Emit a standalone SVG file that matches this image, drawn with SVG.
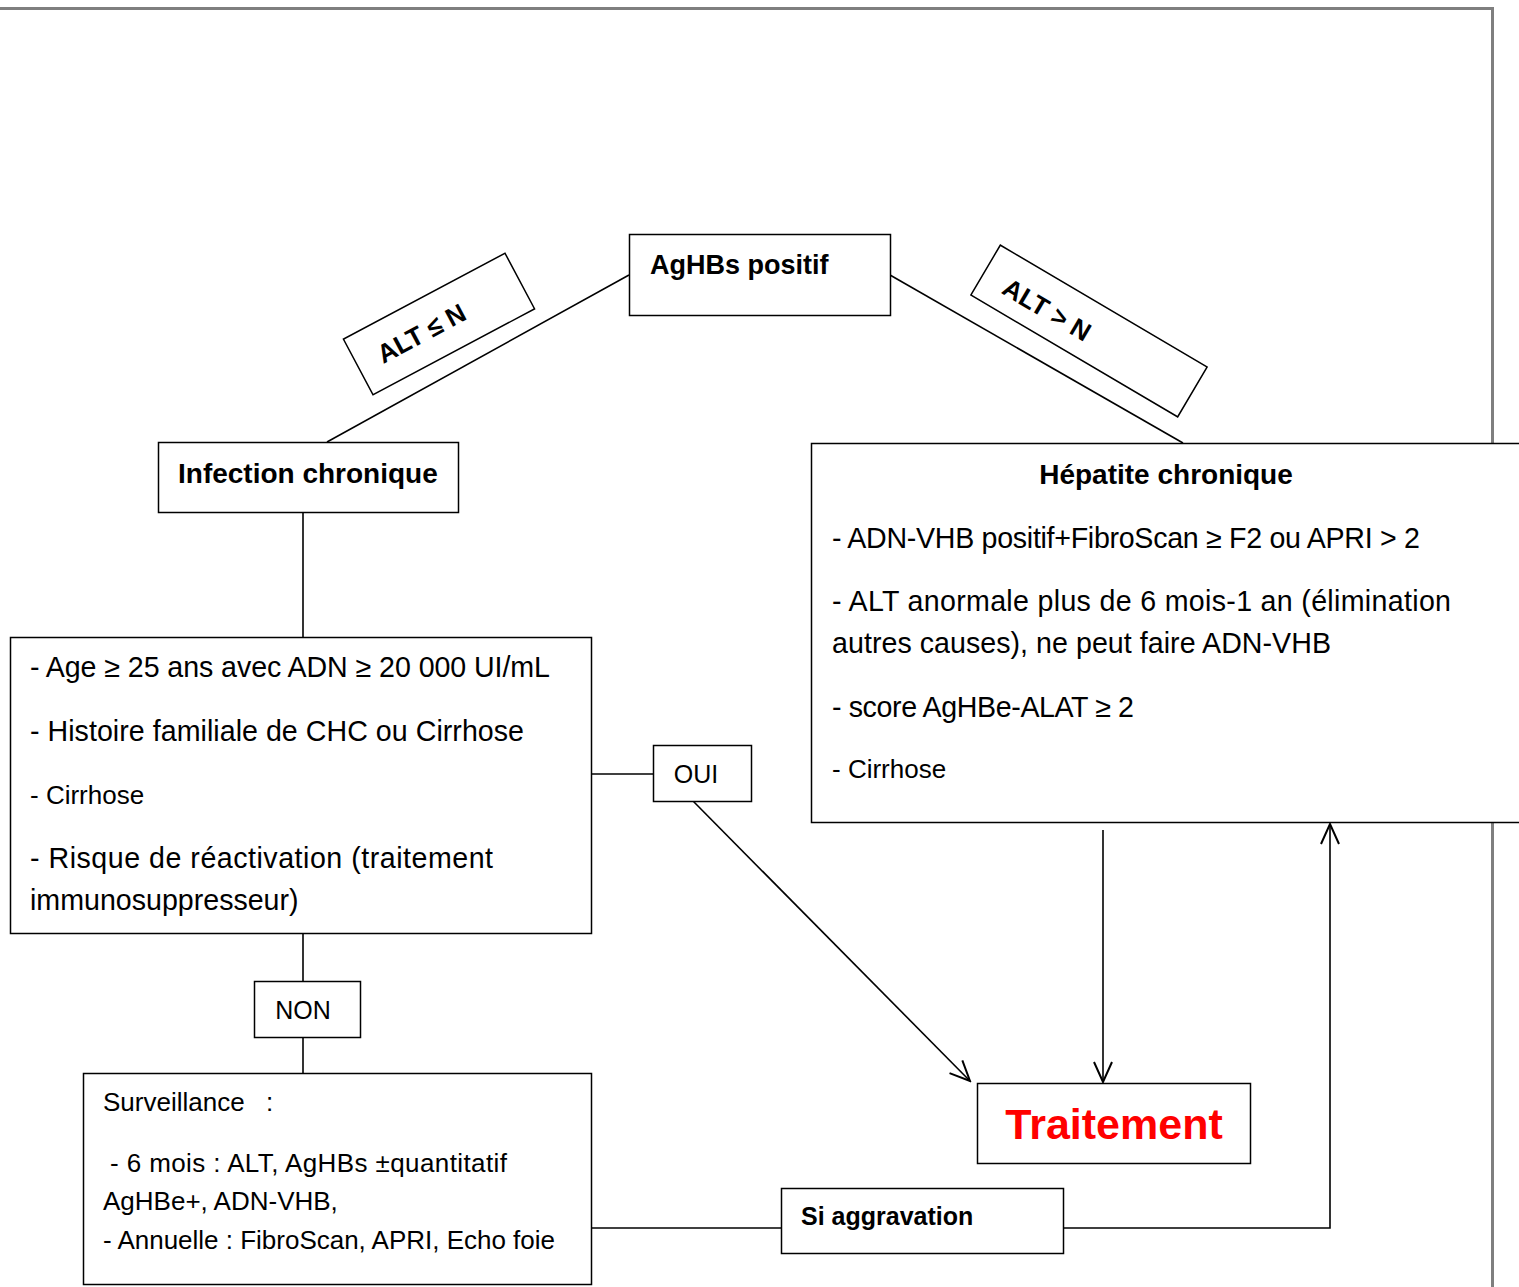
<svg xmlns="http://www.w3.org/2000/svg" width="1519" height="1287" viewBox="0 0 1519 1287">
  <style>
    text { font-family: "Liberation Sans", Arial, sans-serif; fill: #000; }
    .box { fill: #fff; stroke: #000; stroke-width: 1.5; }
    .b { font-weight: bold; }
    .t28 { font-size: 28.6px; }
    .h28 { font-size: 28px; }
    .t26 { font-size: 26px; }
    .t25 { font-size: 25px; }
    .wire { fill: none; stroke: #000; stroke-width: 1.6; }
    .frame { fill: none; stroke: #7f7f7f; stroke-width: 3; }
  </style>
  <defs>
    <marker id="open" viewBox="-1 -11 23 22" markerWidth="23" markerHeight="22" refX="20" refY="0" orient="auto" markerUnits="userSpaceOnUse">
      <path d="M0,-9 L20,0 L0,9" fill="none" stroke="#000" stroke-width="2"/>
    </marker>
  </defs>

  <rect width="1519" height="1287" fill="#fff"/>

  <!-- page frame -->
  <path class="frame" d="M0,8.5 H1492.5 V1287"/>

  <!-- connectors -->
  <g id="connectors">
    <line class="wire" x1="629" y1="275" x2="327" y2="442"/>
    <line class="wire" x1="890" y1="275" x2="1183" y2="443"/>
    <line class="wire" x1="303" y1="512" x2="303" y2="640"/>
    <line class="wire" x1="303" y1="933" x2="303" y2="981"/>
    <line class="wire" x1="303" y1="1037" x2="303" y2="1073"/>
    <line class="wire" x1="591" y1="774" x2="653" y2="774"/>
    <line class="wire" x1="693" y1="801" x2="970" y2="1081" marker-end="url(#open)"/>
    <line class="wire" x1="1103" y1="830" x2="1103" y2="1082" marker-end="url(#open)"/>
    <line class="wire" x1="591" y1="1228" x2="781" y2="1228"/>
    <path class="wire" d="M1063,1228 H1330 V824" stroke-width="2.2" marker-end="url(#open)"/>
  </g>

  <!-- AgHBs positif -->
  <g id="node-aghbs">
    <rect class="box" x="629.5" y="234.5" width="261" height="81"/>
    <text class="b" x="650" y="274" font-size="27">AgHBs positif</text>
  </g>

  <!-- ALT <= N label -->
  <g id="label-alt-le" transform="translate(439,324) rotate(-28)">
    <rect class="box" x="-91.5" y="-31.5" width="183" height="63"/>
    <text class="b" x="-20" y="9" font-size="26" text-anchor="middle">ALT ≤ N</text>
  </g>

  <!-- ALT > N label -->
  <g id="label-alt-gt" transform="translate(1089,331) rotate(30.5)">
    <rect class="box" x="-120" y="-29" width="240" height="58"/>
    <text class="b" x="-47" y="12" font-size="26" text-anchor="middle">ALT &gt; N</text>
  </g>

  <!-- Infection chronique -->
  <g id="node-infection">
    <rect class="box" x="158.5" y="442.5" width="300" height="70"/>
    <text class="b h28" x="178" y="483">Infection chronique</text>
  </g>

  <!-- Criteria box -->
  <g id="node-criteres">
    <rect class="box" x="10.5" y="637.5" width="581" height="296"/>
    <text class="t28" x="30" y="677" textLength="520" lengthAdjust="spacing">- Age ≥ 25 ans avec ADN ≥ 20 000 UI/mL</text>
    <text class="t28" x="30" y="741" textLength="494" lengthAdjust="spacing">- Histoire familiale de CHC ou Cirrhose</text>
    <text class="t26" x="30" y="804">- Cirrhose</text>
    <text class="t28" x="30" y="868" textLength="463" lengthAdjust="spacing">- Risque de réactivation (traitement</text>
    <text class="t28" x="30" y="910">immunosuppresseur)</text>
  </g>

  <!-- OUI -->
  <g id="node-oui">
    <rect class="box" x="653.5" y="745.5" width="98" height="56"/>
    <text class="t25" x="696" y="783" text-anchor="middle">OUI</text>
  </g>

  <!-- NON -->
  <g id="node-non">
    <rect class="box" x="254.5" y="981.5" width="106" height="56"/>
    <text class="t25" x="303" y="1019" text-anchor="middle">NON</text>
  </g>

  <!-- Surveillance -->
  <g id="node-surveillance">
    <rect class="box" x="83.5" y="1073.5" width="508" height="211"/>
    <text class="t26" x="103" y="1111">Surveillance</text>
    <text class="t26" x="266" y="1111">:</text>
    <text class="t26" x="110" y="1172" textLength="397" lengthAdjust="spacing">- 6 mois : ALT, AgHBs ±quantitatif</text>
    <text class="t26" x="103" y="1210">AgHBe+, ADN-VHB,</text>
    <text class="t26" x="103" y="1249" textLength="452" lengthAdjust="spacing">- Annuelle : FibroScan, APRI, Echo foie</text>
  </g>

  <!-- Si aggravation -->
  <g id="node-aggravation">
    <rect class="box" x="781.5" y="1188.5" width="282" height="65"/>
    <text class="b" x="801" y="1225" font-size="25">Si aggravation</text>
  </g>

  <!-- Hepatite chronique -->
  <g id="node-hepatite">
    <rect class="box" x="811.5" y="443.5" width="730" height="379"/>
    <text class="b h28" x="1166" y="484" text-anchor="middle">Hépatite chronique</text>
    <text class="t28" x="832" y="548" textLength="588" lengthAdjust="spacing">- ADN-VHB positif+FibroScan ≥ F2 ou APRI &gt; 2</text>
    <text class="t28" x="832" y="611" textLength="619" lengthAdjust="spacing">- ALT anormale plus de 6 mois-1 an (élimination</text>
    <text class="t28" x="832" y="653" textLength="499" lengthAdjust="spacing">autres causes), ne peut faire ADN-VHB</text>
    <text class="t28" x="832" y="717" textLength="302" lengthAdjust="spacing">- score AgHBe-ALAT ≥ 2</text>
    <text class="t26" x="832" y="778">- Cirrhose</text>
  </g>

  <!-- Traitement -->
  <g id="node-traitement">
    <rect class="box" x="977.5" y="1083.5" width="273" height="80"/>
    <text class="b" x="1114" y="1139" font-size="43" text-anchor="middle" style="fill:#ff0000">Traitement</text>
  </g>
</svg>
